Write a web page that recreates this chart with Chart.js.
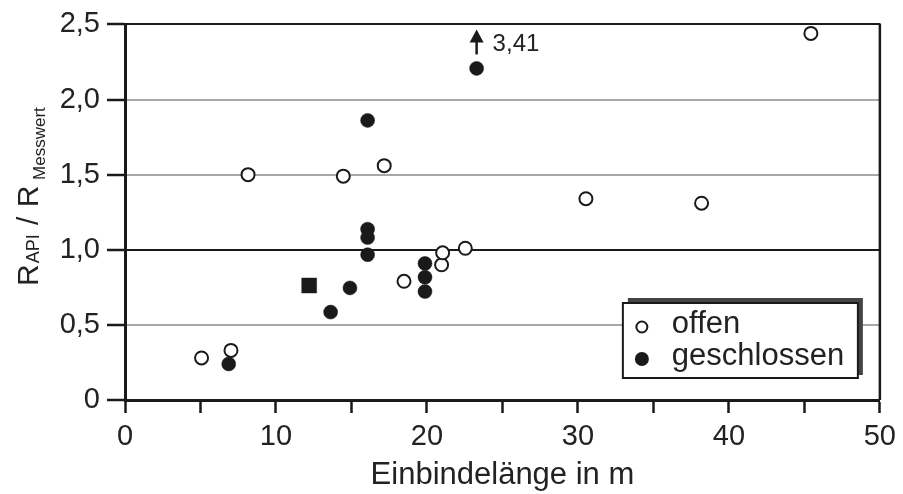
<!DOCTYPE html>
<html>
<head>
<meta charset="utf-8">
<script src="https://cdn.jsdelivr.net/npm/chart.js@4"></script>
<style>
  html, body { margin: 0; padding: 0; background: #fff; }
  #wrap { width: 903px; height: 494px; }
  canvas { display: block; }
</style>
</head>
<body>
<div id="wrap"><canvas id="chart" width="903" height="494"></canvas></div>
<script>
// Werte
const offenX = [5.07, 7.02, 8.15, 14.46, 17.17, 18.48, 20.97, 21.04, 22.54, 30.53, 38.19, 45.43];
const offenY = [0.28, 0.33, 1.50, 1.49, 1.56, 0.79, 0.90, 0.98, 1.01, 1.34, 1.31, 2.44];
const geschlX = [6.87, 13.62, 14.9, 16.07, 16.07, 16.07, 16.07, 19.87, 19.87, 19.87, 23.29];
const geschlY = [0.24, 0.585, 0.746, 0.967, 1.081, 1.137, 1.861, 0.909, 0.817, 0.722, 2.207];
const squareX = [12.2];
const squareY = [0.762];
// Ausreisser: gezeichnet bei 2,21, tatsaechlicher Wert 3,41
const outlierIndex = 10;
const outlierLabel = "3,41";

const yTickLabels = ["0", "0,5", "1,0", "1,5", "2,0", "2,5"];
const legendLabels = ["offen", "geschlossen"];
const xTitle = "Einbindelänge in m";
const yTitleParts = [
  { text: "R", size: 30, shift: 0 },
  { text: "API", size: 18, shift: 1 },
  { text: " / ", size: 30, shift: 0 },
  { text: "R", size: 30, shift: 0 },
  { text: " Messwert", size: 17, shift: 7 }
];

const FONT = "'Liberation Sans', Arial, sans-serif";
const INK = "#1a1a1a";

function toPoints(xs, ys) {
  return xs.map((x, i) => ({ x: x, y: ys[i] }));
}

// Rahmen oben/rechts, Titel der y-Achse, Pfeil und Legende
const extras = {
  id: "extras",
  afterDraw(chart) {
    const ctx = chart.ctx;
    const a = chart.chartArea;
    const sx = chart.scales.x, sy = chart.scales.y;
    ctx.save();

    // rechter Rahmen
    ctx.strokeStyle = INK;
    ctx.lineWidth = 2.5;
    ctx.beginPath();
    ctx.moveTo(a.right, a.top - 1);
    ctx.lineTo(a.right, a.bottom);
    ctx.stroke();

    // y-Titel mit Indizes
    ctx.save();
    ctx.translate(38, 286);
    ctx.rotate(-Math.PI / 2);
    ctx.fillStyle = "#222";
    ctx.textBaseline = "alphabetic";
    let pos = 0;
    yTitleParts.forEach(p => {
      ctx.font = p.size + "px " + FONT;
      ctx.fillText(p.text, pos, p.shift);
      pos += ctx.measureText(p.text).width + 1;
    });
    ctx.restore();

    // Pfeil zum Ausreisser
    const px = sx.getPixelForValue(geschlX[outlierIndex]);
    const py = sy.getPixelForValue(geschlY[outlierIndex]);
    ctx.strokeStyle = INK;
    ctx.fillStyle = INK;
    ctx.lineWidth = 2.5;
    ctx.beginPath();
    ctx.moveTo(px, py - 14);
    ctx.lineTo(px, py - 30);
    ctx.stroke();
    ctx.beginPath();
    ctx.moveTo(px, py - 39);
    ctx.lineTo(px - 7, py - 26);
    ctx.lineTo(px + 7, py - 26);
    ctx.closePath();
    ctx.fill();
    ctx.font = "24px " + FONT;
    ctx.fillStyle = "#222";
    ctx.fillText(outlierLabel, px + 16, py - 17);

    // Legende mit Schatten
    const right = a.right - 22, bottom = a.bottom - 22;
    const left = right - 235, top = bottom - 75;
    ctx.fillStyle = "#444";
    ctx.fillRect(left + 5, top - 5, 235, 77);
    ctx.fillStyle = "#fff";
    ctx.fillRect(left, top, 235, 75);
    ctx.strokeStyle = INK;
    ctx.lineWidth = 2;
    ctx.strokeRect(left, top, 235, 75);

    ctx.beginPath();
    ctx.arc(left + 19, top + 24, 5.5, 0, Math.PI * 2);
    ctx.fillStyle = "#fff";
    ctx.fill();
    ctx.lineWidth = 2;
    ctx.stroke();
    ctx.beginPath();
    ctx.arc(left + 19, top + 56, 7, 0, Math.PI * 2);
    ctx.fillStyle = INK;
    ctx.fill();

    ctx.fillStyle = "#222";
    ctx.font = "31px " + FONT;
    ctx.fillText(legendLabels[0], left + 49, top + 30);
    ctx.fillText(legendLabels[1], left + 49, top + 62);

    ctx.restore();
  }
};

const chart = new Chart(document.getElementById("chart"), {
  type: "scatter",
  data: {
    datasets: [
      {
        label: legendLabels[1],
        data: toPoints(geschlX, geschlY),
        pointStyle: "circle",
        pointRadius: 7,
        backgroundColor: INK,
        borderColor: INK,
        borderWidth: 0.5
      },
      {
        label: "",
        data: toPoints(squareX, squareY),
        pointStyle: "rect",
        pointRadius: 10.5,
        backgroundColor: INK,
        borderColor: INK,
        borderWidth: 0.5
      },
      {
        label: legendLabels[0],
        data: toPoints(offenX, offenY),
        pointStyle: "circle",
        pointRadius: 6.5,
        backgroundColor: "#fff",
        borderColor: INK,
        borderWidth: 2
      }
    ]
  },
  options: {
    responsive: false,
    animation: false,
    devicePixelRatio: 1,
    layout: { padding: { top: 22, right: 23, left: 0, bottom: 0 } },
    plugins: {
      legend: { display: false },
      tooltip: { enabled: false }
    },
    scales: {
      x: {
        type: "linear",
        min: 0,
        max: 50,
        afterFit(scale) { scale.height = 94; },
        ticks: {
          stepSize: 5,
          padding: 7,
          color: "#222",
          font: { family: FONT, size: 29 },
          maxRotation: 0,
          autoSkip: false,
          callback: v => (v % 10 === 0 ? String(v) : "")
        },
        grid: {
          drawOnChartArea: false,
          drawTicks: true,
          tickLength: 13,
          tickColor: INK,
          tickWidth: 2.5
        },
        border: { display: true, color: INK, width: 3 },
        title: {
          display: true,
          text: xTitle,
          color: "#222",
          font: { family: FONT, size: 31 },
          padding: { top: 0, bottom: 0 }
        }
      },
      y: {
        type: "linear",
        min: 0,
        max: 2.5,
        afterFit(scale) { scale.width = 125; },
        ticks: {
          stepSize: 0.5,
          padding: 7,
          color: "#222",
          font: { family: FONT, size: 29 },
          callback: (v, i) => yTickLabels[i]
        },
        grid: {
          drawTicks: true,
          tickLength: 18,
          tickColor: INK,
          tickWidth: 2.5,
          lineWidth: 2,
          color: c => {
            const v = c.tick ? c.tick.value : null;
            if (v === 0) return "rgba(0,0,0,0)";
            if (v === 1 || v === 2.5) return INK;
            return "#a8a8a8";
          }
        },
        border: { display: true, color: INK, width: 3 }
      }
    }
  },
  plugins: [extras]
});
</script>
</body>
</html>
